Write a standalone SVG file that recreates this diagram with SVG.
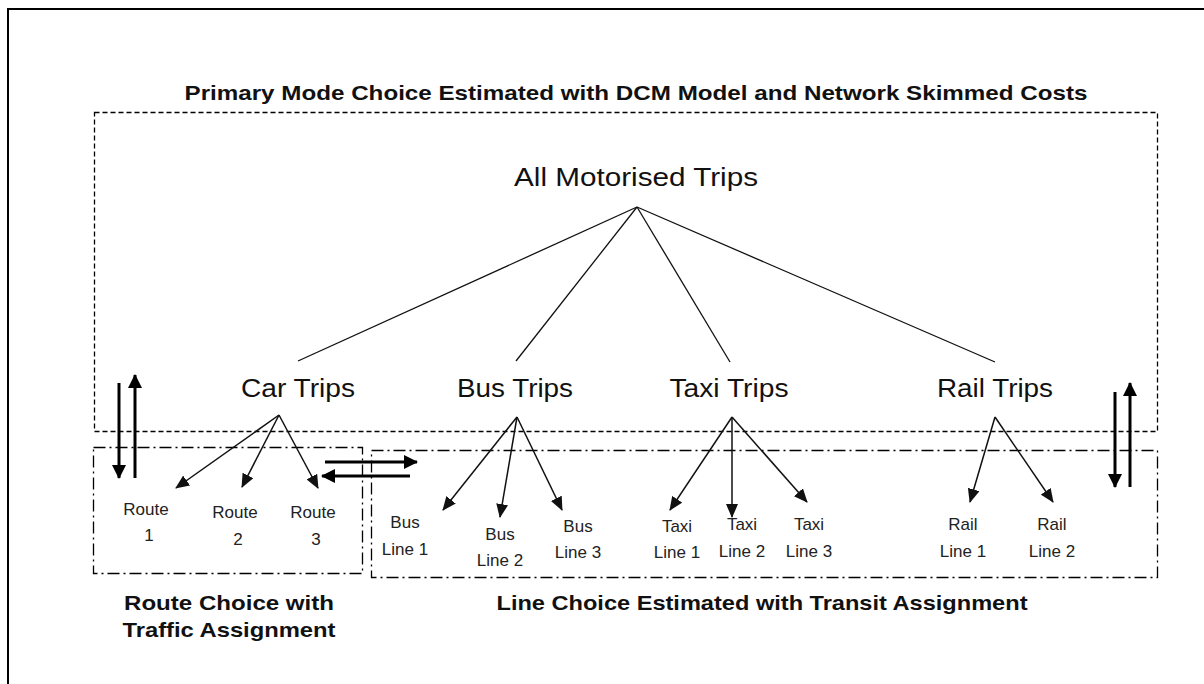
<svg xmlns="http://www.w3.org/2000/svg" width="1204" height="684" viewBox="0 0 1204 684">
<style>
text{font-family:"Liberation Sans",Arial,sans-serif;fill:#111}
.t{font-size:17px;text-anchor:middle;fill:#222}
.m{font-size:26px;text-anchor:middle}
.b{font-size:21px;font-weight:bold;text-anchor:middle}
.ln{stroke:#111;stroke-width:1.3;fill:none}
.ar{stroke:#111;stroke-width:1.5;fill:none;marker-end:url(#ah)}
.tk{stroke:#000;stroke-width:3;fill:none;marker-end:url(#ahb)}
.dash{stroke:#000;stroke-width:1.3;fill:none;stroke-dasharray:5 3}
.dd{stroke:#000;stroke-width:1.3;fill:none;stroke-dasharray:12 4 2 4}
</style>
<defs>
<marker id="ah" markerUnits="userSpaceOnUse" markerWidth="14" markerHeight="12" refX="13" refY="6" orient="auto"><path d="M0,0 L14,6 L0,12 Z" fill="#111"/></marker>
<marker id="ahb" markerUnits="userSpaceOnUse" markerWidth="14" markerHeight="14" refX="13" refY="7" orient="auto"><path d="M0,0 L14,7 L0,14 Z" fill="#000"/></marker>
</defs>
<rect x="0" y="0" width="1204" height="684" fill="#fff"/>
<rect x="8" y="9" width="1400" height="900" fill="none" stroke="#000" stroke-width="2"/>
<g id="frames">
<rect class="dash" x="94.5" y="112.5" width="1063" height="319"/>
<rect class="dd" x="93.5" y="447.5" width="269" height="126"/>
<rect class="dd" x="371.5" y="450.5" width="786" height="127"/>
</g>
<g id="labels">
<text class="b" x="636" y="100" textLength="903" lengthAdjust="spacingAndGlyphs">Primary Mode Choice Estimated with DCM Model and Network Skimmed Costs</text>
<text class="b" x="229" y="610" textLength="210" lengthAdjust="spacingAndGlyphs">Route Choice with</text>
<text class="b" x="229" y="637" textLength="213" lengthAdjust="spacingAndGlyphs">Traffic Assignment</text>
<text class="b" x="762" y="610" textLength="531" lengthAdjust="spacingAndGlyphs">Line Choice Estimated with Transit Assignment</text>
</g>
<g id="connectors">
<line class="ln" x1="637" y1="207" x2="298" y2="361"/>
<line class="ln" x1="637" y1="207" x2="516" y2="361"/>
<line class="ln" x1="637" y1="207" x2="730" y2="362"/>
<line class="ln" x1="637" y1="207" x2="995" y2="362"/>
<line class="ar" x1="279" y1="415" x2="176" y2="488"/>
<line class="ar" x1="279" y1="415" x2="242" y2="487"/>
<line class="ar" x1="279" y1="415" x2="318" y2="488"/>
<line class="ar" x1="517" y1="417" x2="443" y2="510"/>
<line class="ar" x1="517" y1="417" x2="500" y2="517"/>
<line class="ar" x1="517" y1="417" x2="562" y2="510"/>
<line class="ar" x1="732" y1="417" x2="670" y2="510"/>
<line class="ar" x1="732" y1="417" x2="732" y2="517"/>
<line class="ar" x1="732" y1="417" x2="807" y2="502"/>
<line class="ar" x1="995" y1="417" x2="970" y2="502"/>
<line class="ar" x1="995" y1="417" x2="1053" y2="502"/>
<line class="tk" x1="119" y1="383" x2="119" y2="478"/>
<line class="tk" x1="135" y1="478" x2="135" y2="375"/>
<line class="tk" x1="1115" y1="392" x2="1115" y2="487"/>
<line class="tk" x1="1130" y1="487" x2="1130" y2="383"/>
<line class="tk" x1="325" y1="462" x2="417" y2="462"/>
<line class="tk" x1="410" y1="476" x2="322" y2="476"/>
</g>
<g id="all"><text class="m" x="636" y="186" textLength="244" lengthAdjust="spacingAndGlyphs">All Motorised Trips</text></g>
<g id="car"><text class="m" x="298" y="397" textLength="114" lengthAdjust="spacingAndGlyphs">Car Trips</text></g>
<g id="bus"><text class="m" x="515" y="397" textLength="116" lengthAdjust="spacingAndGlyphs">Bus Trips</text></g>
<g id="taxi"><text class="m" x="729" y="397" textLength="119" lengthAdjust="spacingAndGlyphs">Taxi Trips</text></g>
<g id="rail"><text class="m" x="995" y="397" textLength="116" lengthAdjust="spacingAndGlyphs">Rail Trips</text></g>
<g id="route1"><text class="t" x="146" y="515">Route</text><text class="t" x="149" y="541">1</text></g>
<g id="route2"><text class="t" x="235" y="518">Route</text><text class="t" x="238" y="545">2</text></g>
<g id="route3"><text class="t" x="313" y="518">Route</text><text class="t" x="316" y="545">3</text></g>
<g id="busline1"><text class="t" x="405" y="528">Bus</text><text class="t" x="405" y="555">Line 1</text></g>
<g id="busline2"><text class="t" x="500" y="540">Bus</text><text class="t" x="500" y="566">Line 2</text></g>
<g id="busline3"><text class="t" x="578" y="532">Bus</text><text class="t" x="578" y="558">Line 3</text></g>
<g id="taxiline1"><text class="t" x="677" y="532">Taxi</text><text class="t" x="677" y="558">Line 1</text></g>
<g id="taxiline2"><text class="t" x="742" y="530">Taxi</text><text class="t" x="742" y="557">Line 2</text></g>
<g id="taxiline3"><text class="t" x="809" y="530">Taxi</text><text class="t" x="809" y="557">Line 3</text></g>
<g id="railline1"><text class="t" x="963" y="530">Rail</text><text class="t" x="963" y="557">Line 1</text></g>
<g id="railline2"><text class="t" x="1052" y="530">Rail</text><text class="t" x="1052" y="557">Line 2</text></g>
</svg>
